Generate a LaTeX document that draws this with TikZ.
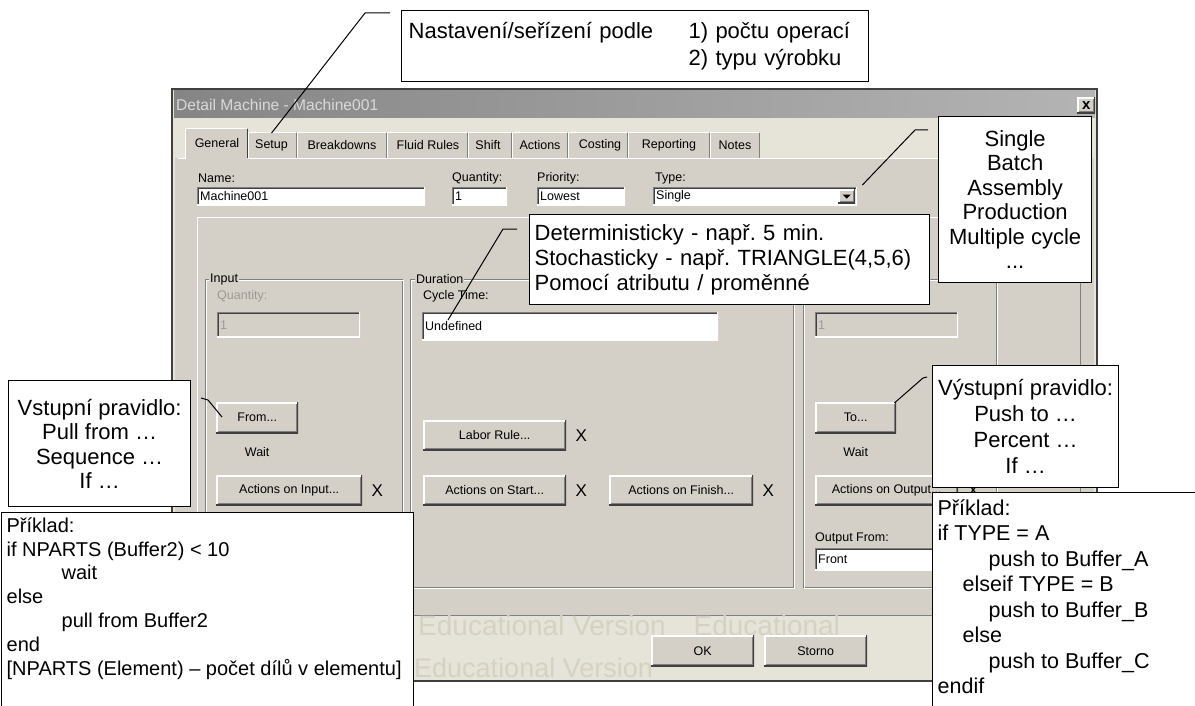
\documentclass[tikz,border=0pt]{standalone}
\usepackage{fontspec}
\setmainfont{Liberation Sans}
\usetikzlibrary{positioning}
\definecolor{Dlg}{HTML}{D4D0C8}
\definecolor{Cream}{HTML}{E6E3D8}
\definecolor{Shade}{HTML}{808080}
\definecolor{Dark}{HTML}{404040}
\definecolor{Dim}{HTML}{9C9A94}
\definecolor{TitleL}{HTML}{858585}
\definecolor{TitleR}{HTML}{B4B4B4}
\definecolor{Mark}{HTML}{D5D1C3}
\frenchspacing

\begin{document}
\begin{tikzpicture}[
  x=1pt,y=-1pt,
  ui/.style={font=\fontsize{12.5}{15}\selectfont,inner sep=0pt},
  raised/.style={path picture={
    \draw[white,line width=3pt](path picture bounding box.south west)|-(path picture bounding box.north east);
    \draw[Dark,line width=2pt](path picture bounding box.south west)-|(path picture bounding box.north east);
    \draw[Shade,line width=1pt]([shift={(1.5pt,1.5pt)}]path picture bounding box.south west)-|([shift={(-1.5pt,-1.5pt)}]path picture bounding box.north east);}},
  sunken/.style={path picture={
    \draw[Shade,line width=2pt](path picture bounding box.south west)|-(path picture bounding box.north east);
    \draw[Dark,line width=1pt]([shift={(1.5pt,1.5pt)}]path picture bounding box.south west)|-([shift={(-1.5pt,-1.5pt)}]path picture bounding box.north east);
    \draw[white,line width=2pt](path picture bounding box.south west)-|(path picture bounding box.north east);}},
  btn/.style={ui,raised,fill=Dlg,anchor=north west,minimum height=31pt},
  field/.style={ui,sunken,fill=white,anchor=north west,align=left,inner xsep=3pt,minimum height=18pt},
  cross/.style={font=\fontsize{17}{17}\selectfont,inner sep=0pt},
  watermark/.style={anchor=west,inner sep=0pt,text=Mark,font=\fontsize{28}{28}\selectfont},
  note/.style={draw,line width=1.3pt,fill=white,inner sep=0pt,align=center,
    font=\fontsize{22}{24.5}\selectfont},
  leader/.style={line width=1pt}]
\useasboundingbox (0,0) rectangle (1195,706);
\clip (0,0) rectangle (1195,706);
\fill[white] (0,0) rectangle (1195,706);

% window frame and title bar
\fill[Cream] (172,89) rectangle (1097,681);
\fill[Dlg] (175,158) rectangle (1094,615);
\draw[Dark,line width=1.2pt] (172,89) rectangle (1097,681);
\shade[left color=TitleL,right color=TitleR] (174,91) rectangle (1095,118);
\node[anchor=west,inner sep=0pt,text=white!85!black,font=\fontsize{15.6}{18}\selectfont] (winTitle) at (176,105) {Detail Machine - Machine001};
\node[btn,minimum width=18pt,minimum height=16pt,font=\bfseries\fontsize{15}{15}\selectfont] (closeBtn) at (1077,97) {x};

% tab strip
\foreach \xa/\xb in {248/297,297/387,387/468,468/512,512/568,568/628,628/710,710/760}{
  \fill[Dlg] (\xa,132) rectangle (\xb,158);
  \draw[white] (\xa+0.5,158) -- (\xa+0.5,132.5) -- (\xb-1,132.5);
  \draw[Shade] (\xb-1,133) -- (\xb-1,158);}
\fill[Dlg] (185,128) rectangle (248,160);
\draw[white] (178,158.5) -- (185.5,158.5) -- (185.5,128.5) -- (247,128.5);
\draw[white] (248,158.5) -- (1090,158.5);
\draw[Dark] (247.5,129) -- (247.5,158);
\node[ui] (tabGeneral) at (217,143) {General};
\node[ui] (tabSetup) at (271.5,145) {Setup};
\node[ui] (tabBreakdowns) at (342,145) {Breakdowns};
\node[ui] (tabFluid) at (428,145) {Fluid Rules};
\node[ui] (tabShift) at (488,145) {Shift};
\node[ui] (tabActions) at (540,145) {Actions};
\node[ui] (tabCosting) at (600,145) {Costing};
\node[ui] (tabReporting) at (669,145) {Reporting};
\node[ui] (tabNotes) at (735,145) {Notes};

% general fields
\node[ui,anchor=west] (nameLbl) at (198,178) {Name:};
\node[ui,anchor=west] (qtyLbl) at (452,178) {Quantity:};
\node[ui,anchor=west] (prioLbl) at (537,178) {Priority:};
\node[ui,anchor=west] (typeLbl) at (655,178) {Type:};
\node[field,text width=222pt] (nameField) at (197,187) {Machine001};
\node[field,text width=49pt] (qtyField) at (452,187) {1};
\node[field,text width=82pt] (prioField) at (537,187) {Lowest};
\node[field,text width=198pt] (typeCombo) at (653,187) {Single};
\node[btn,minimum width=17pt,minimum height=14pt] (typeArrow) at (838,189) {};
\fill ([shift={(-4pt,1.5pt)}]typeArrow.center) -- ++(8pt,0pt) -- ++(-4pt,-4pt) -- cycle;

% panel and group boxes
\draw[white] (197,615) -- (197,217.5) -- (1080,217.5);
\draw[Shade] (1080,217) -- (1080,615);
\draw[Shade] (175,615.5) -- (1094,615.5);
\foreach \xa/\xb in {205/402,410/793,803/996}{
  \draw[Shade] (\xa,279) rectangle (\xb,587);
  \draw[white] (\xa+1,280) rectangle (\xb+1,588);}
\node[ui,anchor=west,fill=Dlg,inner xsep=1pt] (inputTitle) at (209,279) {Input};
\node[ui,anchor=west,fill=Dlg,inner xsep=1pt] (durTitle) at (415,279) {Duration};

\node[ui,anchor=west,text=Dim] (inQtyLbl) at (217,296) {Quantity:};
\node[field,fill=Dlg,text=Dim,text width=137pt,minimum height=25pt] (inQtyField) at (217,312) {1};
\node[ui,anchor=west] (cycleLbl) at (423,296) {Cycle Time:};
\node[field,text width=290pt,minimum height=28pt] (cycleField) at (422,312) {Undefined};
\node[field,fill=Dlg,text=Dim,text width=137pt,minimum height=25pt] (outQtyField) at (815,312) {1};

% rule and action buttons
\node[btn,minimum width=82pt] (fromBtn) at (216,402) {From...};
\node[ui,below=14pt of fromBtn] (fromWait) {Wait};
\node[btn,minimum width=81pt] (toBtn) at (815,402) {To...};
\node[ui,below=14pt of toBtn] (toWait) {Wait};
\node[btn,minimum width=143pt,minimum height=30pt] (laborBtn) at (423,420) {Labor Rule...};
\node[btn,minimum width=146pt,minimum height=30pt] (inActBtn) at (216,475) {Actions on Input...};
\node[btn,minimum width=143pt,minimum height=30pt] (startBtn) at (423,475) {Actions on Start...};
\node[btn,minimum width=144pt,minimum height=30pt] (finishBtn) at (609,475) {Actions on Finish...};
\node[btn,minimum width=143pt,minimum height=30pt] (outActBtn) at (815,475) {Actions on Output...};
\node[cross,right=9pt of laborBtn] (laborX) {X};
\node[cross,right=9pt of inActBtn] (inActX) {X};
\node[cross,right=9pt of startBtn] (startX) {X};
\node[cross,right=9pt of finishBtn] (finishX) {X};
\node[cross,right=9pt of outActBtn] (outActX) {X};
\node[ui,anchor=west] (outFromLbl) at (815,538) {Output From:};
\node[field,text width=137pt,minimum height=22pt] (outFromField) at (815,548) {Front};

% bottom strip
\node[watermark] (markTop) at (418,625) {Educational Version\quad Educational};
\node[watermark,font=\fontsize{27}{27}\selectfont] (markBottom) at (414,668) {Educational Version};
\node[btn,minimum width=103pt] (okBtn) at (651,635) {OK};
\node[btn,minimum width=103pt] (stornoBtn) at (764,635) {Storno};

% callouts
\node[note,anchor=north west,minimum width=467pt,minimum height=71pt,text width=453pt,inner xsep=7pt,align=left,font=\fontsize{22}{27}\selectfont] (setupNote) at (401,10)
  {\begin{tabular}{@{}p{280pt}@{}l@{}}Nastavení/seřízení podle&1) počtu operací\\&2) typu výrobku\end{tabular}};
\node[note,anchor=north west,minimum width=153pt,minimum height=166pt] (typeNote) at (938,116)
  {Single\\Batch\\Assembly\\Production\\Multiple cycle\\...};
\node[note,anchor=north west,minimum width=400pt,minimum height=90pt,text width=390pt,inner xsep=5pt,align=left,font=\fontsize{22}{25}\selectfont] (timeNote) at (529,214)
  {Deterministicky - např. 5 min.\\Stochasticky - např. TRIANGLE(4,5,6)\\Pomocí atributu / proměnné};
\node[note,anchor=north west,minimum width=182pt,minimum height=126pt] (inNote) at (8,380)
  {Vstupní pravidlo:\\Pull from …\\Sequence …\\If …};
\node[note,anchor=north west,minimum width=186pt,minimum height=122pt,font=\fontsize{22}{26}\selectfont] (outNote) at (932,365)
  {Výstupní pravidlo:\\Push to …\\Percent …\\If …};
\node[note,anchor=north west,align=left,inner xsep=5pt,inner ysep=5pt,font=\fontsize{20}{23.8}\selectfont] (pullExample) at (1,512)
  {\parbox[t][200pt][t]{402pt}{Příklad:\\if NPARTS (Buffer2) < 10\\\hspace*{55pt}wait\\else\\\hspace*{55pt}pull from Buffer2\\end\\{[NPARTS (Element) – počet dílů v elementu]}}};
\node[note,anchor=north west,align=left,inner xsep=5pt,inner ysep=7pt,font=\fontsize{21.5}{25.5}\selectfont] (pushExample) at (932,492)
  {\parbox[t][210pt][t]{280pt}{Příklad:\\if TYPE = A\\\hspace*{51pt}push to Buffer\_A\\\hspace*{25pt}elseif TYPE = B\\\hspace*{51pt}push to Buffer\_B\\\hspace*{25pt}else\\\hspace*{51pt}push to Buffer\_C\\endif}};

% leader lines
\coordinate (setupKnee) at (365,13);
\coordinate (setupEnd) at (390,13);
\draw[leader] ([yshift=6pt]tabSetup.north) -- (setupKnee) -- (setupEnd);
\coordinate (typeKnee) at (915,130);
\coordinate (typeEnd) at (928,130);
\draw[leader] ([xshift=5pt,yshift=2pt]typeCombo.north east) -- (typeKnee) -- (typeEnd);
\coordinate (timeKnee) at (503,229);
\coordinate (timeEnd) at (517,229);
\draw[leader] ([xshift=26pt,yshift=-8pt]cycleField.north west) -- (timeKnee) -- (timeEnd);
\coordinate (inKnee) at (208,400);
\coordinate (inEnd) at (201,398);
\draw[leader] ([xshift=6pt,yshift=-15pt]fromBtn.north west) -- (inKnee) -- (inEnd);
\coordinate (outKnee) at (923,378);
\coordinate (outEnd) at (927,377);
\draw[leader] ([xshift=-2pt,yshift=-1pt]toBtn.north east) -- (outKnee) -- (outEnd);
\end{tikzpicture}
\end{document}
